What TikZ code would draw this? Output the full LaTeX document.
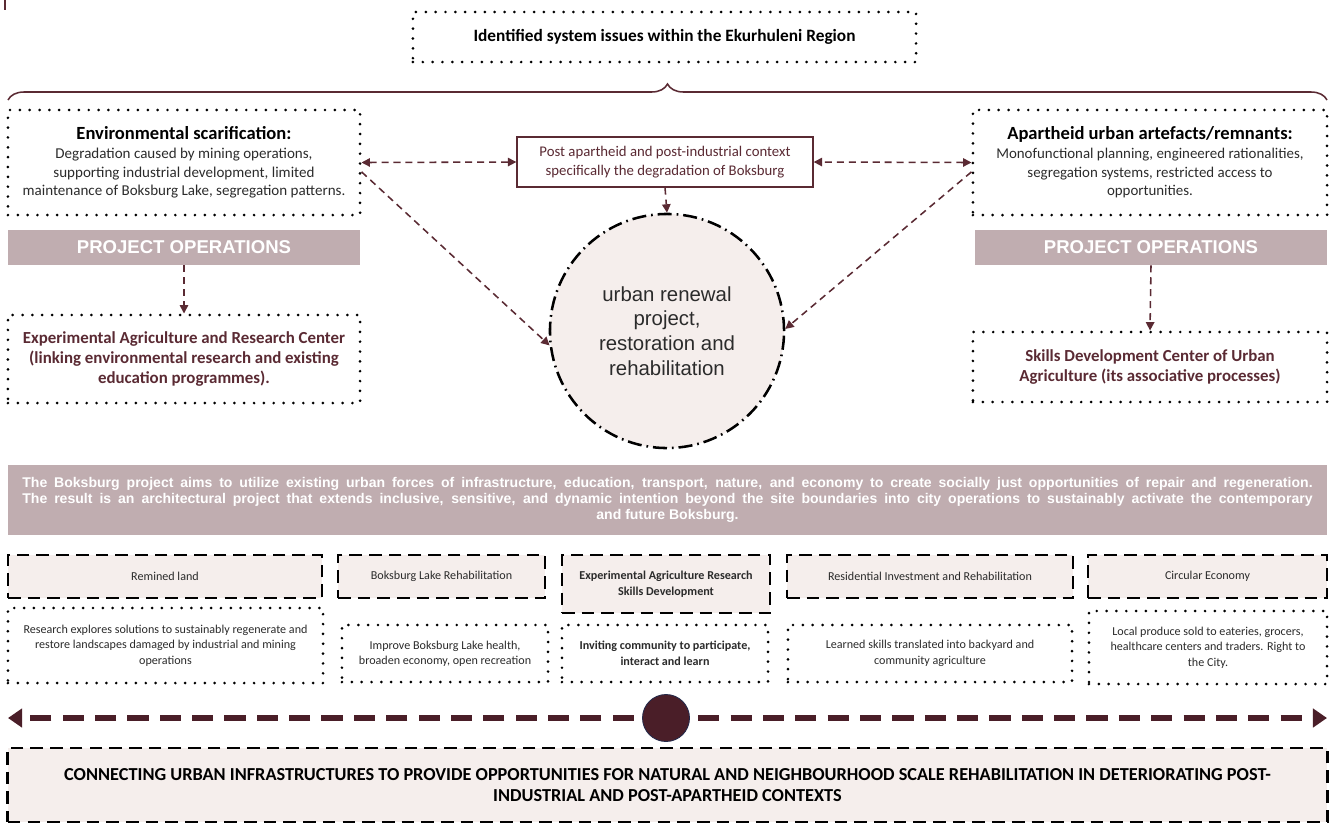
\documentclass[tikz,border=0pt]{standalone}
\usepackage{fontspec}
\setmainfont{Carlito}
\newfontfamily\arialfont{Liberation Sans}
\usetikzlibrary{arrows.meta,decorations.pathreplacing}

\definecolor{maroon}{HTML}{5A2A33}
\definecolor{mauve}{HTML}{C0ADB0}
\definecolor{blush}{HTML}{F5EEEC}
\definecolor{plum}{HTML}{4A1E28}
\definecolor{inkgray}{HTML}{2B2B2B}
\definecolor{hubrim}{HTML}{23294A}

\tikzset{
  dotbox/.style={draw=black, line width=2.1pt, dash pattern=on 0pt off 7pt, line cap=round, align=center},
  dashbox/.style={draw=black, line width=2pt, dash pattern=on 9pt off 5pt, fill=blush, align=center},
  opsbar/.style={fill=mauve, text=white, font=\arialfont\bfseries\fontsize{13.2}{15}\selectfont,
                 minimum width=8.8cm, minimum height=0.875cm},
  flow/.style={maroon, line width=1.1pt, dash pattern=on 5pt off 3.5pt, -{Triangle[length=6pt,width=6pt]}},
  flowboth/.style={flow, {Triangle[length=6pt,width=6pt]}-{Triangle[length=6pt,width=6pt]}},
  spine/.style={plum, line width=4pt, dash pattern=on 15pt off 8pt, -{Triangle[length=10pt,width=13pt]}},
  smalltxt/.style={font=\fontsize{8.6}{11}\selectfont, text=inkgray},
}

\begin{document}
\begin{tikzpicture}[x=0.025cm, y=-0.025cm]
\useasboundingbox (0,0) rectangle (1333,825);

\draw[maroon, line width=1pt] (5,0) -- (5,10);

% header and brace
\node[dotbox, minimum width=12.575cm, minimum height=1.25cm, font=\bfseries\fontsize{12.3}{14}\selectfont] (issues) at (664.5,37) {Identified system issues within the Ekurhuleni Region};
\draw[maroon, line width=1.1pt, decorate, decoration={brace, amplitude=0.4cm}] (8,100) -- (1327,100);

% left column
\node[dotbox, minimum width=8.8cm, minimum height=2.625cm, font=\fontsize{10.7}{13.3}\selectfont, text=inkgray] (envscar) at (184,162.5)
  {{\color{black}\bfseries\fontsize{13.2}{15.5}\selectfont Environmental scarification:}\\
   Degradation caused by mining operations,\\
   supporting industrial development, limited\\
   maintenance of Boksburg Lake, segregation patterns.};
\node[opsbar] (opsleft) at (184,247.5) {PROJECT OPERATIONS};
\node[dotbox, minimum width=8.8cm, minimum height=2.2cm, text=maroon, font=\bfseries\fontsize{12}{14.5}\selectfont] (agricentre) at (184,359)
  {Experimental Agriculture and Research Center\\(linking environmental research and existing\\education programmes).};

% centre
\node[draw=maroon, line width=0.9pt, fill=white, minimum width=7.4cm, minimum height=1.25cm, text=maroon, align=center,
      font=\fontsize{10.5}{13}\selectfont] (context) at (665,162)
  {Post apartheid and post-industrial context\\specifically the degradation of Boksburg};
\node[circle, draw=black, fill=blush, line width=1.8pt, dash pattern=on 10pt off 3.5pt on 1.2pt off 3.5pt,
      minimum size=5.85cm, inner sep=0pt, align=center, text=inkgray, font=\arialfont\fontsize{14.5}{17.5}\selectfont] (renewal) at (667,331)
  {urban renewal\\project,\\restoration and\\rehabilitation};

% right column
\node[dotbox, minimum width=8.85cm, minimum height=2.625cm, font=\fontsize{10.6}{13.3}\selectfont, text=inkgray] (remnants) at (1150,162.5)
  {{\color{black}\bfseries\fontsize{13.2}{15.5}\selectfont Apartheid urban artefacts/remnants:}\\
   Monofunctional planning, engineered rationalities,\\
   segregation systems, restricted access to\\
   opportunities.};
\node[opsbar] (opsright) at (1151,247.5) {PROJECT OPERATIONS};
\node[dotbox, minimum width=8.85cm, minimum height=1.75cm, text=maroon, font=\bfseries\fontsize{12}{14.5}\selectfont] (skillcentre) at (1150,367)
  {Skills Development Center of Urban\\Agriculture (its associative processes)};

% arrows
\draw[flowboth] (envscar.east) -- (context.west);
\draw[flowboth] (remnants.west) -- (context.east);
\draw[flow] (envscar.-3) -- (renewal.187);
\draw[flow] (remnants.183) -- (renewal.1);
\draw[flow] (context.south) -- (renewal.north);
\draw[flow] (opsleft.south) -- (agricentre.north);
\draw[flow] (opsright.south) -- (skillcentre.north);

% aims band
\node[fill=mauve, minimum width=32.975cm, minimum height=1.75cm, align=center, text=white,
      font=\arialfont\bfseries\fontsize{10}{11.4}\selectfont] (aims) at (667.5,500)
  {\makebox[32.25cm][s]{The Boksburg project aims to utilize existing urban forces of infrastructure, education, transport, nature, and economy to create socially just opportunities of repair and regeneration.}\\
   \makebox[32.25cm][s]{The result is an architectural project that extends inclusive, sensitive, and dynamic intention beyond the site boundaries into city operations to sustainably activate the contemporary}\\
   and future Boksburg.};

% strategy row
\node[dashbox, smalltxt, minimum width=7.85cm, minimum height=1.075cm] (remined) at (165,576.5) {Remined land};
\node[dashbox, smalltxt, minimum width=5.175cm, minimum height=1.075cm] (lakerehab) at (441.5,576.5) {Boksburg Lake Rehabilitation};
\node[dashbox, smalltxt, minimum width=5.2cm, minimum height=1.45cm, font=\bfseries\fontsize{8.6}{11}\selectfont] (agriresearch) at (666,584)
  {Experimental Agriculture Research\\Skills Development};
\node[dashbox, smalltxt, minimum width=7.15cm, minimum height=1.075cm] (residential) at (930,576.5) {Residential Investment and Rehabilitation};
\node[dashbox, smalltxt, minimum width=5.975cm, minimum height=1.075cm] (circular) at (1207.5,576.5) {Circular Economy};

\node[dotbox, smalltxt, minimum width=7.875cm, minimum height=1.875cm] (reminedtext) at (165.5,645.5)
  {Research explores solutions to sustainably regenerate and\\restore landscapes damaged by industrial and mining\\operations};
\node[dotbox, smalltxt, minimum width=5.15cm, minimum height=1.425cm] (laketext) at (445,653.5)
  {Improve Boksburg Lake health,\\broaden economy, open recreation};
\node[dotbox, smalltxt, minimum width=5.15cm, minimum height=1.425cm, font=\bfseries\fontsize{8.6}{11}\selectfont] (agritext) at (665,653.5)
  {Inviting community to participate,\\interact and learn};
\node[dotbox, smalltxt, minimum width=7.1cm, minimum height=1.425cm] (residentialtext) at (930,653.5)
  {Learned skills translated into backyard and\\community agriculture};
\node[dotbox, smalltxt, minimum width=5.95cm, minimum height=1.825cm] (circulartext) at (1208,647.5)
  {Local produce sold to eateries, grocers,\\healthcare centers and traders. Right to\\the City.};

% connecting line
\coordinate (westend) at (8,718);
\coordinate (eastend) at (1327,718);
\draw[spine] (666,718) -- (westend);
\draw[spine] (666,718) -- (eastend);
\node[circle, fill=plum, draw=hubrim, line width=0.6pt, minimum size=1.175cm, inner sep=0pt] (hub) at (666,718) {};

% closing banner
\node[dashbox, minimum width=32.975cm, minimum height=1.85cm, font=\bfseries\fontsize{13}{15.5}\selectfont] (closing) at (667.5,785)
  {CONNECTING URBAN INFRASTRUCTURES TO PROVIDE OPPORTUNITIES FOR NATURAL AND NEIGHBOURHOOD SCALE REHABILITATION IN DETERIORATING POST-\\
   INDUSTRIAL AND POST-APARTHEID CONTEXTS};
\end{tikzpicture}
\end{document}
